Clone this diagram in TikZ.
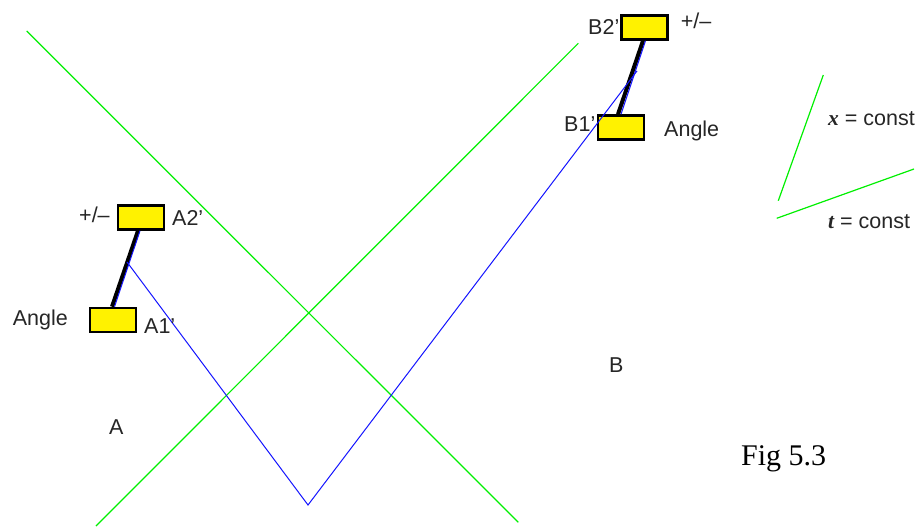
\documentclass[tikz,border=0pt]{standalone}
\usepackage{fontspec}
\setmainfont{Liberation Serif}
\setsansfont{Liberation Sans}
\definecolor{grn}{RGB}{0,240,0}
\definecolor{blu}{RGB}{20,20,255}
\begin{document}
\begin{tikzpicture}[x=1pt,y=-1pt,
  box/.style={draw=black,line width=2.6pt,fill=yellow,minimum width=46pt,minimum height=24pt,inner sep=0pt},
  lbl/.style={font=\sffamily\fontsize{21.5}{23}\selectfont,anchor=base west,inner sep=0pt,text=black!85},
  gline/.style={draw=grn,line width=1.2pt},
  bline/.style={draw=blu,line width=1pt},
  rod/.style={draw=black,line width=4pt}]
\useasboundingbox[fill=white] (0,0) rectangle (924,527);
% green world lines
\coordinate (g1s) at (26.7,31);
\coordinate (g1e) at (518.3,522.3);
\coordinate (g2s) at (96,526);
\coordinate (g2e) at (578.3,43.3);
\draw[gline] (g1s) -- (g1e);
\draw[gline] (g2s) -- (g2e);
% boxes
\node[box] (A2) at (141,217.5) {};
\node[box] (A1) at (113,320) {};
\node[box] (B2) at (644.5,27.5) {};
\node[box] (B1) at (621,127.5) {};
% rods
\draw[rod] ([xshift=-1]A1.north) -- ([xshift=-3]A2.south);
\draw[rod] ([xshift=-3]B1.north) -- ([xshift=-1.5]B2.south);
% blue path
\coordinate (pa) at (127,262);
\coordinate (pv) at (308,505);
\coordinate (pb) at (637,71);
\draw[bline] ([xshift=1.5]A1.north) -- ([xshift=-1]A2.south);
\draw[bline] ([xshift=0]B1.north) -- ([xshift=1]B2.south);
\draw[bline] (pa) -- (pv) -- (pb);
% labels
\node[lbl] (lpmA) at (79,222) {+/--};
\node[lbl] (lA2) at (172,225) {A2’};
\node[lbl] (lAngA) at (12.7,325) {Angle};
\node[lbl] (lA1) at (144,333) {A1’};
\node[lbl] (lB2) at (588,35) {B2’};
\node[lbl] (lpmB) at (680.7,29) {+/--};
\node[lbl] (lB1) at (564,131.7) {B1’};
\node[lbl] (lAngB) at (664,136.7) {Angle};
\node[lbl] (lA) at (109,434) {A};
\node[lbl] (lB) at (609,372) {B};
% axes legend
\coordinate (x1) at (823.3,75);
\coordinate (x2) at (778.3,200.7);
\coordinate (t1) at (776.7,218.3);
\coordinate (t2) at (914,169);
\draw[gline] (x1) -- (x2);
\draw[gline] (t1) -- (t2);
\node[lbl] (lx) at (828,125) {{\rmfamily\bfseries\itshape x} = const};
\node[lbl] (lt) at (828,228) {{\rmfamily\bfseries\itshape t} = const};
\node[anchor=base west,inner sep=0pt,font=\rmfamily\fontsize{30}{32}\selectfont] (fig) at (741,465.7) {Fig 5.3};
\end{tikzpicture}
\end{document}
